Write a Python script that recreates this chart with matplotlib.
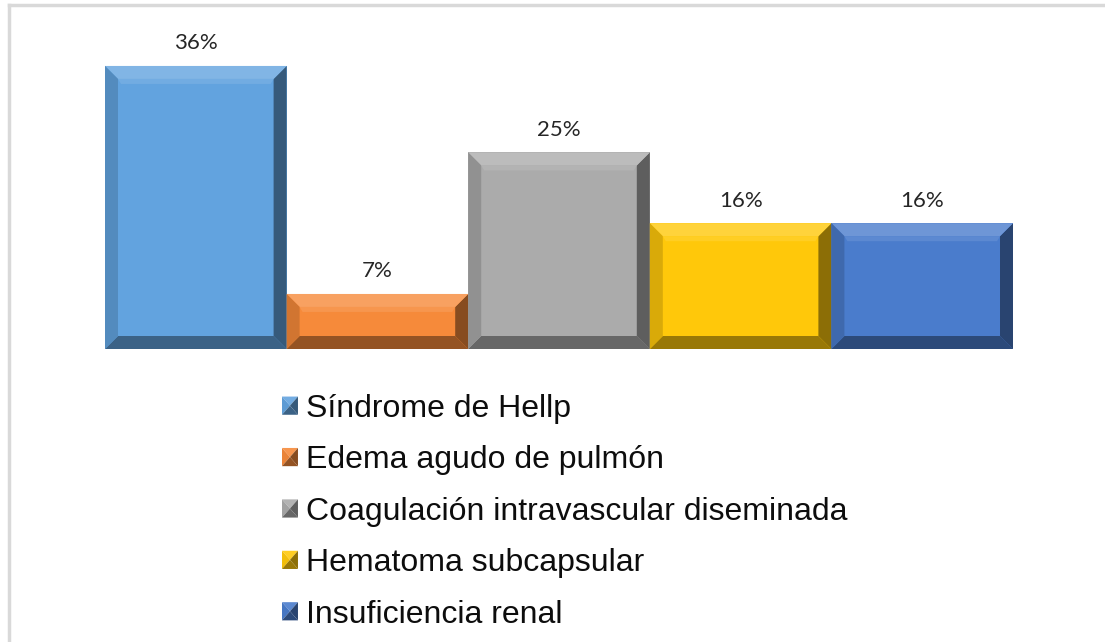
import numpy as np
import matplotlib
matplotlib.use("Agg")
import matplotlib.pyplot as plt
from matplotlib.patches import Polygon, Rectangle
from matplotlib.legend_handler import HandlerBase
from matplotlib.colors import to_rgb
from matplotlib.lines import Line2D

categories = ["Síndrome de Hellp", "Edema agudo de pulmón",
              "Coagulación intravascular diseminada", "Hematoma subcapsular",
              "Insuficiencia renal"]
values = [36, 7, 25, 16, 16]
labels = ["36%", "7%", "25%", "16%", "16%"]
colors = ["#62A3DF", "#F68A3A", "#ABABAB", "#FFC80A", "#4A7CCC"]


def shade(c, f):
    r = np.array(to_rgb(c))
    if f >= 1:
        return tuple(r + (1 - r) * (f - 1))
    return tuple(r * f)


W, H = 1105, 642
fig = plt.figure(figsize=(W / 100, H / 100), dpi=100)
ax = fig.add_axes([105 / W, (H - 349) / H, (1013 - 105) / W, 314.5 / H])
ax.set_xlim(-0.5, 4.5)
ax.set_ylim(0, 40)
ax.axis("off")

x = np.arange(len(values))
bars = ax.bar(x, values, width=1.0, color=colors, edgecolor="none")

bev = 13  # bevel size in pixels
inv = ax.transData.inverted()
for b, c in zip(bars, colors):
    x0, y0 = b.get_x(), b.get_y()
    x1, y1 = x0 + b.get_width(), y0 + b.get_height()
    (px0, py0), (px1, py1) = ax.transData.transform([(x0, y0), (x1, y1)])
    outer = [(px0, py0), (px1, py0), (px1, py1), (px0, py1)]
    inner = [(px0 + bev, py0 + bev), (px1 - bev, py0 + bev),
             (px1 - bev, py1 - bev), (px0 + bev, py1 - bev)]
    faces = {
        "bottom": ([outer[0], outer[1], inner[1], inner[0]], shade(c, 0.6)),
        "right": ([outer[1], outer[2], inner[2], inner[1]], shade(c, 0.55)),
        "top": ([outer[3], outer[2], inner[2], inner[3]], shade(c, 1.2)),
        "left": ([outer[0], outer[3], inner[3], inner[0]], shade(c, 0.85)),
    }
    for name, (pts, fc) in faces.items():
        ax.add_patch(Polygon(inv.transform(pts), closed=True, facecolor=fc,
                             edgecolor="none", zorder=3))
    # soft highlight just below top bevel
    hl = [(px0 + bev, py1 - bev), (px1 - bev, py1 - bev),
          (px1 - bev - 3, py1 - bev - 5), (px0 + bev + 3, py1 - bev - 5)]
    ax.add_patch(Polygon(inv.transform(hl), closed=True,
                         facecolor=shade(c, 1.1), edgecolor="none", zorder=3))

for xi, v, lab in zip(x, values, labels):
    ax.annotate(lab, (xi, v), xytext=(0, 9), textcoords="offset points",
                ha="center", va="bottom", fontsize=16, family="Lato",
                color="#262626")


class BevelHandler(HandlerBase):
    def create_artists(self, legend, orig_handle, xdescent, ydescent,
                       width, height, fontsize, trans):
        c = orig_handle.get_facecolor()
        x0, y0 = -xdescent, -ydescent
        x1, y1 = x0 + width, y0 + height
        cx, cy = (x0 + x1) / 2, (y0 + y1) / 2
        tris = [
            ([(x0, y1), (x1, y1), (cx, cy)], shade(c, 1.1)),
            ([(x0, y0), (x0, y1), (cx, cy)], shade(c, 0.95)),
            ([(x1, y0), (x1, y1), (cx, cy)], shade(c, 0.55)),
            ([(x0, y0), (x1, y0), (cx, cy)], shade(c, 0.6)),
        ]
        arts = []
        for pts, fc in tris:
            p = Polygon(pts, closed=True, facecolor=fc, edgecolor="none",
                        transform=trans)
            arts.append(p)
        return arts


handles = [Rectangle((0, 0), 1, 1, facecolor=c) for c in colors]
leg = fig.legend(handles, categories, loc="upper left",
                 bbox_to_anchor=(282 / W, (H - 394) / H),
                 frameon=False, prop={"family": "Liberation Sans", "size": 23},
                 handlelength=0.5, handleheight=0.5, handletextpad=0.25,
                 labelspacing=0.67, borderpad=0, borderaxespad=0,
                 handler_map={Rectangle: BevelHandler()})
for t in leg.get_texts():
    t.set_color("#0D0D0D")

# chart-area frame (light gray), partly cropped at right/bottom
fig.add_artist(Line2D([9 / W, 9 / W], [0, (H - 5) / H], transform=fig.transFigure,
                      color="#D9D9D9", lw=2.5))
fig.add_artist(Line2D([9 / W, 1], [(H - 5) / H, (H - 5) / H],
                      transform=fig.transFigure, color="#D9D9D9", lw=2.5))

fig.savefig("out.png", dpi=100, facecolor="white")
